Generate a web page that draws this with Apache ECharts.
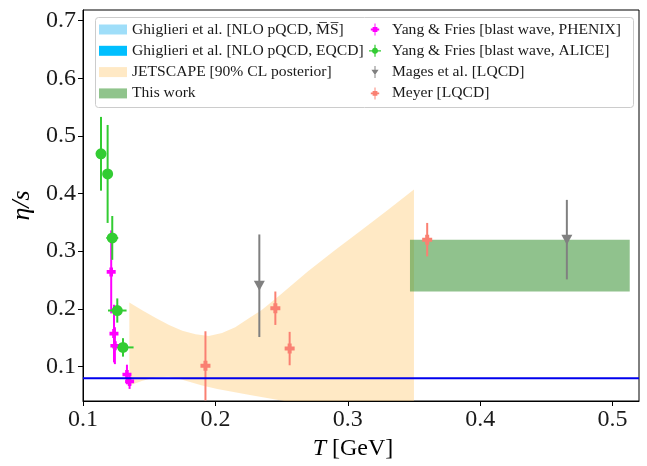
<!DOCTYPE html>
<html>
<head>
<meta charset="utf-8">
<script src="https://cdn.jsdelivr.net/npm/echarts@6/dist/echarts.min.js"></script>
<style>
  html, body { margin: 0; padding: 0; background: #fff; }
  #chart { width: 647px; height: 466px; }
</style>
</head>
<body>
<div id="chart"></div>
<script>
// axis ticks
var xTicks = [0.1, 0.2, 0.3, 0.4, 0.5];
var yTicks = [0.1, 0.2, 0.3, 0.4, 0.5, 0.6, 0.7];

// KSS bound 1/(4 pi)
var kssT = [0.1, 0.52];
var kssV = [0.0796, 0.0796];

// JETSCAPE 90% CL posterior band
var jetUpperT = [0.135, 0.145, 0.155, 0.165, 0.175, 0.185, 0.195, 0.205, 0.215, 0.225, 0.235, 0.25, 0.27, 0.29, 0.31, 0.33, 0.35];
var jetUpperV = [0.211, 0.197, 0.184, 0.172, 0.162, 0.156, 0.153, 0.158, 0.168, 0.183, 0.198, 0.226, 0.265, 0.301, 0.336, 0.371, 0.407];
var jetLowerT = [0.135, 0.145, 0.155, 0.165, 0.175, 0.19, 0.2015, 0.225, 0.252, 0.3, 0.35];
var jetLowerV = [0.067, 0.075, 0.081, 0.082, 0.077, 0.067, 0.061, 0.051, 0.040, 0.02, 0.0];

// this work
var workT = [0.347, 0.513];
var workLow = [0.23, 0.23];
var workHigh = [0.32, 0.32];

// Yang & Fries, PHENIX
var phenixT = [0.1213, 0.1234, 0.1241, 0.1332, 0.1352];
var phenixV = [0.264, 0.157, 0.136, 0.086, 0.074];
var phenixErr = [0.072, 0.05, 0.032, 0.017, 0.013];
var phenixTErr = [0.001, 0.002, 0.002, 0.002, 0.002];

// Yang & Fries, ALICE
var aliceT = [0.1136, 0.1186, 0.1221, 0.1259, 0.1302];
var aliceV = [0.469, 0.434, 0.323, 0.197, 0.133];
var aliceErr = [0.064, 0.085, 0.038, 0.021, 0.016];
var aliceTErr = [0.001, 0.001, 0.0045, 0.007, 0.008];

// Mages et al., LQCD
var magesT = [0.2332, 0.4655];
var magesV = [0.24, 0.32];
var magesErr = [0.089, 0.069];
var magesTErr = [0, 0];

// Meyer, LQCD
var meyerT = [0.1925, 0.2453, 0.2561, 0.36];
var meyerV = [0.101, 0.201, 0.131, 0.320];
var meyerErr = [0.06, 0.029, 0.029, 0.029];
var meyerTErr = [0, 0, 0, 0];

var serif = "Liberation Serif";

var plusPath = "path://M3,0H7V3H10V7H7V10H3V7H0V3H3Z";
var triDownPath = "path://M0,0L10,0L5,9Z";
var plusLegend = "path://M-0.8,-10H0.8V-4H4V-1.5H7V1.5H4V4H0.8V10H-0.8V4H-4V1.5H-7V-1.5H-4V-4H-0.8Z";
var circLegend = "path://M-1,-10H1V-5A5,5 0 0 1 5,-1H10V1H5A5,5 0 0 1 1,5V10H-1V5A5,5 0 0 1 -5,1H-10V-1H-5A5,5 0 0 1 -1,-5Z";
var triLegend = "path://M-6,-4H6L0,5Z M-0.8,-10H0.8V10H-0.8Z";

function pts(ts, vs) {
  return ts.map(function (t, i) { return [t, vs[i]]; });
}

function errData(ts, vs, dv, dt) {
  return ts.map(function (t, i) { return [t, vs[i], dv[i], dt[i]]; });
}

function bandRenderer(upT, upV, loT, loV, color) {
  return function (params, api) {
    if (params.dataIndex > 0) return;
    var poly = [];
    for (var i = 0; i < upT.length; i++) poly.push(api.coord([upT[i], upV[i]]));
    for (var j = loT.length - 1; j >= 0; j--) poly.push(api.coord([loT[j], loV[j]]));
    return { type: "polygon", shape: { points: poly }, style: { fill: color } };
  };
}

function errRenderer(color) {
  return function (params, api) {
    var t = api.value(0), v = api.value(1), dv = api.value(2), dt = api.value(3);
    var top = api.coord([t, v + dv]), bot = api.coord([t, v - dv]);
    var l = api.coord([t - dt, v]), r = api.coord([t + dt, v]);
    var st = { stroke: color, lineWidth: 2 };
    return {
      type: "group",
      children: [
        { type: "line", shape: { x1: top[0], y1: top[1], x2: bot[0], y2: bot[1] }, style: st },
        { type: "line", shape: { x1: l[0], y1: l[1], x2: r[0], y2: r[1] }, style: st }
      ]
    };
  };
}

var C = {
  ghMS: "#9fdef9",
  ghEQ: "#00bfff",
  jet: "rgba(255,200,110,0.4)",
  jetLegend: "#ffe9c5",
  work: "rgba(46,139,40,0.53)",
  workLegend: "#90c48c",
  phenix: "#ff00ff",
  alice: "#33cc33",
  mages: "#808080",
  meyer: "#fa8072"
};

var names = {
  ghMS: "Ghiglieri et al. [NLO pQCD, M\u0305S\u0305]",
  ghEQ: "Ghiglieri et al. [NLO pQCD, EQCD]",
  jet: "JETSCAPE [90% CL posterior]",
  work: "This work",
  phenix: "Yang & Fries [blast wave, PHENIX]",
  alice: "Yang & Fries [blast wave, ALICE]",
  mages: "Mages et al. [LQCD]",
  meyer: "Meyer [LQCD]"
};

var legendText = { fontFamily: serif, fontSize: 15.6, color: "#1a1a1a", lineHeight: 16 };

var chart = echarts.init(document.getElementById("chart"));

var option = {
  animation: false,
  backgroundColor: "#fff",
  grid: {
    left: 83, right: 8, top: 10, bottom: 64,
    show: true, borderColor: "#000", borderWidth: 1, backgroundColor: "transparent"
  },
  graphic: [
    {
      type: "rect", left: 95, top: 17, z: 100,
      shape: { width: 538, height: 90, r: 3 },
      style: { fill: "rgba(255,255,255,0.85)", stroke: "#cccccc", lineWidth: 1 }
    }
  ],
  legend: [
    {
      orient: "vertical", left: 99, top: 21.5, padding: 0, itemGap: 5.3,
      itemWidth: 28, itemHeight: 10, z: 101,
      textStyle: legendText,
      selectedMode: false,
      data: [
        { name: names.ghMS, icon: "rect" },
        { name: names.ghEQ, icon: "rect" },
        { name: names.jet, icon: "rect" },
        { name: names.work, icon: "rect" }
      ]
    },
    {
      orient: "vertical", left: 369, top: 21.5, padding: 0, itemGap: 5.3,
      itemWidth: 24, itemHeight: 12, z: 101,
      textStyle: legendText,
      selectedMode: false,
      data: [
        { name: names.phenix, icon: plusLegend },
        { name: names.alice, icon: circLegend },
        { name: names.mages, icon: triLegend },
        { name: names.meyer, icon: plusLegend }
      ]
    }
  ],
  xAxis: {
    type: "value", min: 0.1, max: 0.52,
    name: "{i|T} [GeV]", nameLocation: "middle", nameGap: 36,
    nameTextStyle: {
      fontFamily: serif, fontSize: 24, color: "#000", padding: [0, 16, 0, 0],
      rich: { i: { fontFamily: serif, fontSize: 24, fontStyle: "italic", color: "#000" } }
    },
    axisLine: { show: true, lineStyle: { color: "#000", width: 1 } },
    axisTick: { show: true, length: 5, inside: false, customValues: xTicks, lineStyle: { color: "#000" } },
    axisLabel: {
      customValues: xTicks, margin: 7,
      fontFamily: serif, fontSize: 24, color: "#1a1a1a",
      formatter: function (v) { return v.toFixed(1); }
    },
    splitLine: { show: false }
  },
  yAxis: {
    type: "value", min: 0.04, max: 0.7185,
    name: "\u03b7/s", nameLocation: "middle", nameGap: 40, nameRotate: 90,
    nameTextStyle: { fontFamily: serif, fontSize: 26, color: "#000", fontStyle: "italic" },
    axisLine: { show: true, lineStyle: { color: "#000", width: 1 } },
    axisTick: { show: true, length: 5, inside: false, customValues: yTicks, lineStyle: { color: "#000" } },
    axisLabel: {
      customValues: yTicks, margin: 7,
      fontFamily: serif, fontSize: 24, color: "#1a1a1a",
      formatter: function (v) { return v.toFixed(1); }
    },
    splitLine: { show: false }
  },
  series: [
    { name: names.ghMS, type: "custom", data: [], itemStyle: { color: C.ghMS },
      renderItem: function () {} },
    { name: names.ghEQ, type: "custom", data: [], itemStyle: { color: C.ghEQ },
      renderItem: function () {} },
    {
      name: names.jet, type: "custom", clip: true, silent: true,
      itemStyle: { color: C.jetLegend },
      data: [[jetUpperT[0], jetUpperV[0]]], encode: { x: 0, y: 1 },
      renderItem: bandRenderer(jetUpperT, jetUpperV, jetLowerT, jetLowerV, C.jet)
    },
    {
      name: names.work, type: "custom", clip: true, silent: true,
      itemStyle: { color: C.workLegend },
      data: [[workT[0], workHigh[0]]], encode: { x: 0, y: 1 },
      renderItem: bandRenderer(workT, workHigh, workT, workLow, C.work)
    },
    {
      name: "KSS", type: "line", data: pts(kssT, kssV), showSymbol: false, silent: true,
      lineStyle: { color: "#0000ee", width: 2 }
    },
    { type: "custom", clip: true, silent: true, encode: { x: 0, y: 1 },
      data: errData(phenixT, phenixV, phenixErr, phenixTErr), renderItem: errRenderer(C.phenix) },
    { type: "custom", clip: true, silent: true, encode: { x: 0, y: 1 },
      data: errData(aliceT, aliceV, aliceErr, aliceTErr), renderItem: errRenderer(C.alice) },
    { type: "custom", clip: true, silent: true, encode: { x: 0, y: 1 },
      data: errData(magesT, magesV, magesErr, magesTErr), renderItem: errRenderer(C.mages) },
    { type: "custom", clip: true, silent: true, encode: { x: 0, y: 1 },
      data: errData(meyerT, meyerV, meyerErr, meyerTErr), renderItem: errRenderer(C.meyer) },
    {
      name: names.phenix, type: "scatter", data: pts(phenixT, phenixV),
      symbol: plusPath, symbolSize: 9, itemStyle: { color: C.phenix, opacity: 1 }
    },
    {
      name: names.alice, type: "scatter", data: pts(aliceT, aliceV),
      symbol: "circle", symbolSize: 11, itemStyle: { color: C.alice, opacity: 1 }
    },
    {
      name: names.mages, type: "scatter", data: pts(magesT, magesV),
      symbol: triDownPath, symbolSize: [11, 10], itemStyle: { color: C.mages, opacity: 1 }
    },
    {
      name: names.meyer, type: "scatter", data: pts(meyerT, meyerV),
      symbol: plusPath, symbolSize: 10, itemStyle: { color: C.meyer, opacity: 1 }
    }
  ]
};

chart.setOption(option);
</script>
</body>
</html>
